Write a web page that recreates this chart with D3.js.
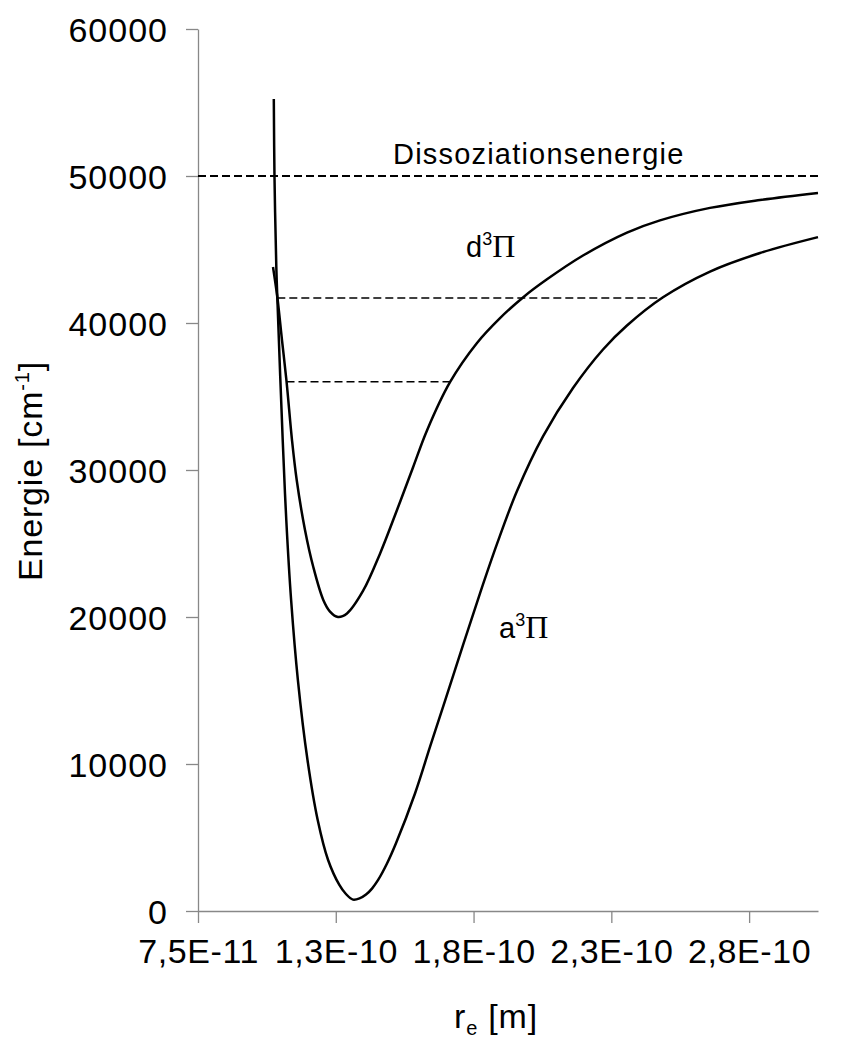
<!DOCTYPE html>
<html>
<head>
<meta charset="utf-8">
<script src="https://cdn.jsdelivr.net/npm/d3@7"></script>
<style>
  html, body { margin: 0; padding: 0; background: #fff; }
  svg { display: block; }
  text { font-family: "Liberation Sans", Arial, sans-serif; fill: #000; }
</style>
</head>
<body>
<svg id="chart" width="856" height="1043"></svg>
<script>
// ---- data (r in metres, E in cm^-1) ----
const aR = [1.0251e-10, 1.0276e-10, 1.0342e-10, 1.0378e-10, 1.0574e-10, 1.0704e-10, 1.0879e-10, 1.1125e-10, 1.1474e-10, 1.1844e-10, 1.2221e-10, 1.2630e-10, 1.2853e-10, 1.3125e-10, 1.3379e-10, 1.3597e-10, 1.3814e-10, 1.4032e-10, 1.4359e-10, 1.4685e-10, 1.5375e-10, 1.5919e-10, 1.6464e-10, 1.7117e-10, 1.7734e-10, 1.8351e-10, 1.9077e-10, 2.0020e-10, 2.1109e-10, 2.2198e-10, 2.3068e-10, 2.4375e-10, 2.6081e-10, 2.7895e-10, 3.0000e-10];
const aE = [55240, 49930, 43810, 41770, 32040, 26600, 21160, 15710, 10270, 6190, 3470, 1770, 1190, 776, 871, 1116, 1524, 2095, 3231, 4605, 7993, 11160, 14290, 18080, 21610, 24970, 28570, 32290, 35580, 38200, 39830, 41750, 43500, 44760, 45840];

const dR = [1.0222e-10, 1.0378e-10, 1.0548e-10, 1.0712e-10, 1.0911e-10, 1.1082e-10, 1.1383e-10, 1.1684e-10, 1.2047e-10, 1.2290e-10, 1.2581e-10, 1.2907e-10, 1.3488e-10, 1.4105e-10, 1.4722e-10, 1.5302e-10, 1.5810e-10, 1.6645e-10, 1.7625e-10, 1.8460e-10, 1.9294e-10, 2.0165e-10, 2.1472e-10, 2.3068e-10, 2.4266e-10, 2.6081e-10, 2.7895e-10, 3.0000e-10];
const dE = [43810, 41770, 38840, 36050, 32040, 29320, 25920, 23400, 21160, 20370, 20000, 20240, 21770, 24310, 27280, 30170, 32690, 35970, 38640, 40330, 41740, 42970, 44590, 46150, 46980, 47830, 48370, 48850];

// horizontal reference lines
const dissE = 50000;
const dissR = [7.5e-11, 3.0e-10];
const levelE = [41700, 36000];
const levelStart = [1.0378e-10, 1.0712e-10];
const levelEnd = [2.4375e-10, 1.6645e-10];

const xTickValues = [7.5e-11, 1.25e-10, 1.75e-10, 2.25e-10, 2.75e-10];
const xTickLabels = ["7,5E-11", "1,3E-10", "1,8E-10", "2,3E-10", "2,8E-10"];
const yTickValues = [0, 10000, 20000, 30000, 40000, 50000, 60000];
const yTickLabels = ["0", "10000", "20000", "30000", "40000", "50000", "60000"];

// ---- drawing ----
const svg = d3.select("#chart");
const x = d3.scaleLinear().domain([7.5e-11, 3.0e-10]).range([198, 818]);
const y = d3.scaleLinear().domain([0, 60000]).range([911, 29]);

const axisColor = "#888";

// y axis
const yAxis = svg.append("g").attr("transform", `translate(${x.range()[0]},0)`)
  .call(d3.axisLeft(y).tickValues(yTickValues).tickSize(12).tickSizeOuter(0)
    .tickFormat((d, i) => yTickLabels[i]).tickPadding(18));
yAxis.select(".domain").attr("stroke", axisColor).attr("stroke-width", 1.3);
yAxis.selectAll(".tick line").attr("stroke", axisColor).attr("stroke-width", 1.3);
yAxis.selectAll(".tick text").style("font-size", "34px").style("letter-spacing", "1px")
  .attr("fill", "#000").attr("dy", "0.36em");

// x axis
const xAxis = svg.append("g").attr("transform", `translate(0,${y(0)})`)
  .call(d3.axisBottom(x).tickValues(xTickValues).tickSize(12).tickSizeOuter(0)
    .tickFormat((d, i) => xTickLabels[i]).tickPadding(8));
xAxis.select(".domain").attr("stroke", axisColor).attr("stroke-width", 1.5);
xAxis.selectAll(".tick line").attr("stroke", axisColor).attr("stroke-width", 1.3);
xAxis.selectAll(".tick text").style("font-size", "34px").style("letter-spacing", "0.6px")
  .attr("fill", "#000").attr("dy", "0.95em");

// dashed lines
svg.append("line")
  .attr("x1", x(dissR[0])).attr("x2", x(dissR[1]))
  .attr("y1", y(dissE)).attr("y2", y(dissE))
  .attr("stroke", "#000").attr("stroke-width", 1.9).attr("stroke-dasharray", "8,4");

svg.selectAll("line.level").data(levelE).enter().append("line")
  .attr("class", "level")
  .attr("x1", (d, i) => x(levelStart[i])).attr("x2", (d, i) => x(levelEnd[i]))
  .attr("y1", d => y(d)).attr("y2", d => y(d))
  .attr("stroke", "#000").attr("stroke-width", 1.4).attr("stroke-dasharray", "8,4");

// curves
const line = d3.line().x(d => x(d[0])).y(d => y(d[1])).curve(d3.curveCatmullRom.alpha(0.5));
const aData = aR.map((r, i) => [r, aE[i]]);
const dData = dR.map((r, i) => [r, dE[i]]);
[aData, dData].forEach(data => {
  svg.append("path").datum(data).attr("d", line)
    .attr("fill", "none").attr("stroke", "#000").attr("stroke-width", 2.5)
    .attr("stroke-linejoin", "round");
});

// annotations
svg.append("text").attr("x", 393).attr("y", 164).style("font-size", "29px")
  .style("letter-spacing", "1.2px").text("Dissoziationsenergie");

function stateLabel(px, py, letter) {
  const t = svg.append("text").attr("x", px).attr("y", py).style("font-size", "29px");
  t.append("tspan").text(letter);
  t.append("tspan").attr("dy", -12).style("font-size", "18px").text("3");
  t.append("tspan").attr("dy", 12).style("font-family", "'Liberation Serif', 'Times New Roman', serif")
    .style("font-size", "32px").text("Π");
}
stateLabel(466, 257, "d");
stateLabel(499, 638, "a");

// axis titles
const yt = svg.append("text").attr("transform", "translate(42,471) rotate(-90)")
  .attr("text-anchor", "middle").style("font-size", "34px").style("letter-spacing", "0.8px");
yt.append("tspan").text("Energie [cm");
yt.append("tspan").attr("dy", -13).style("font-size", "20px").text("-1");
yt.append("tspan").attr("dy", 13).text("]");

const xt = svg.append("text").attr("x", 496).attr("y", 1028)
  .attr("text-anchor", "middle").style("font-size", "34px").style("letter-spacing", "0.8px");
xt.append("tspan").text("r");
xt.append("tspan").attr("dy", 7).style("font-size", "20px").text("e");
xt.append("tspan").attr("dy", -7).text(" [m]");
</script>
</body>
</html>
